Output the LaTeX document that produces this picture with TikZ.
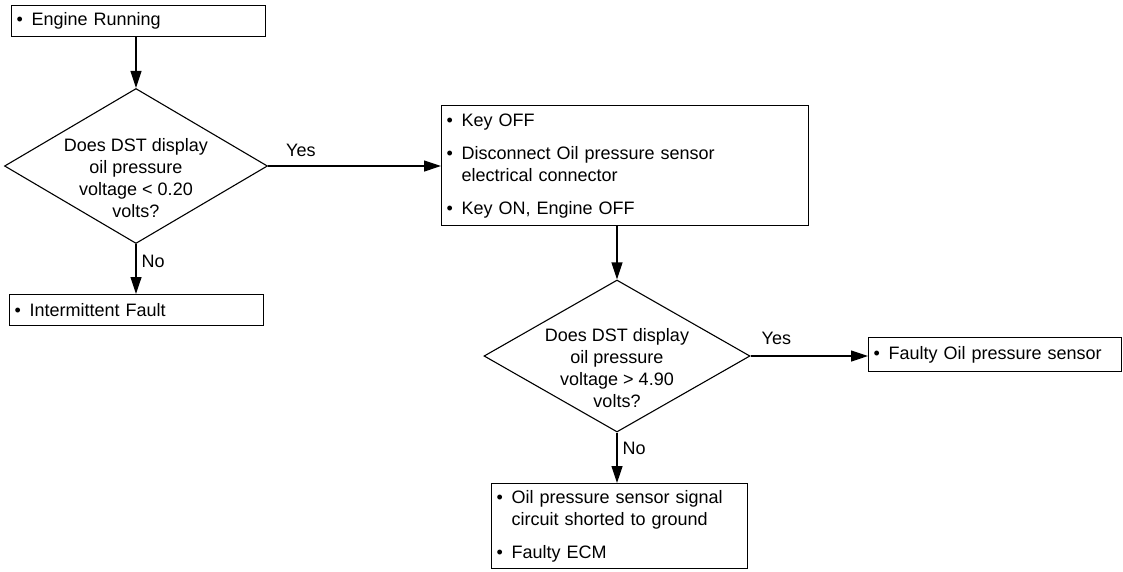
\documentclass[tikz,border=0pt]{standalone}
\usepackage{fontspec}
\setmainfont{Liberation Sans}
\usetikzlibrary{arrows.meta,shapes.geometric}
\newcommand{\itm}{\makebox[15pt][l]{\textbullet}}

\begin{document}
\begin{tikzpicture}[
    x=1pt, y=-1pt,
    font=\fontsize{18}{22}\selectfont,
    box/.style={draw, line width=1.2pt, anchor=north west, align=left,
      inner xsep=5pt, inner ysep=0pt},
    decision/.style={draw, diamond, line width=1.1pt, inner sep=0pt},
    question/.style={align=center, inner sep=0pt},
    arrow/.style={-{Triangle[length=17pt,width=11pt]}, line width=1.2pt},
    tag/.style={inner sep=2pt}
  ]
    \useasboundingbox (0,0) rectangle (1123,571);
    \node[box, text width=244pt, minimum height=31pt] (run) at (11,5) {\itm Engine Running};
    \node[decision, minimum width=263pt, minimum height=155pt] (q1) at (136,166) {};
    \node[question] (q1txt) at ([yshift=-12pt]q1.center) {Does DST display\\oil pressure\\voltage < 0.20\\volts?};
    \node[box, text width=244pt, minimum height=31pt] (fault) at (9,294) {\itm Intermittent Fault};
    \node[box, text width=357pt, minimum height=120pt] (keys) at (441,105)
      {\itm Key OFF\\[11pt]\itm Disconnect Oil pressure sensor\\\hspace*{15pt}electrical connector\\[11pt]\itm Key ON, Engine OFF};
    \node[decision, minimum width=266pt, minimum height=152pt] (q2) at (617,356) {};
    \node[question] (q2txt) at ([yshift=-12pt]q2.center) {Does DST display\\oil pressure\\voltage > 4.90\\volts?};
    \node[box, text width=243pt, minimum height=34pt] (sensor) at (868,337) {\itm Faulty Oil pressure sensor};
    \node[box, text width=246pt, minimum height=85pt] (ecm) at (491,483)
      {\itm Oil pressure sensor signal\\\hspace*{15pt}circuit shorted to ground\\[11pt]\itm Faulty ECM};
    \draw[arrow] (run.south -| q1) -- (q1.north);
    \draw[arrow] (q1.south) -- (q1.south |- fault.north) node[tag, pos=0.34, right=3pt] {No};
    \draw[arrow] (q1.east) -- (q1.east -| keys.west) node[tag, pos=0.19, above=7pt] {Yes};
    \draw[arrow] (keys.south -| q2) -- (q2.north);
    \draw[arrow] (q2.east) -- (q2.east -| sensor.west) node[tag, pos=0.22, above=9pt] {Yes};
    \draw[arrow] (q2.south) -- (q2.south |- ecm.north) node[tag, pos=0.31, right=3pt] {No};
  \end{tikzpicture}
\end{document}
